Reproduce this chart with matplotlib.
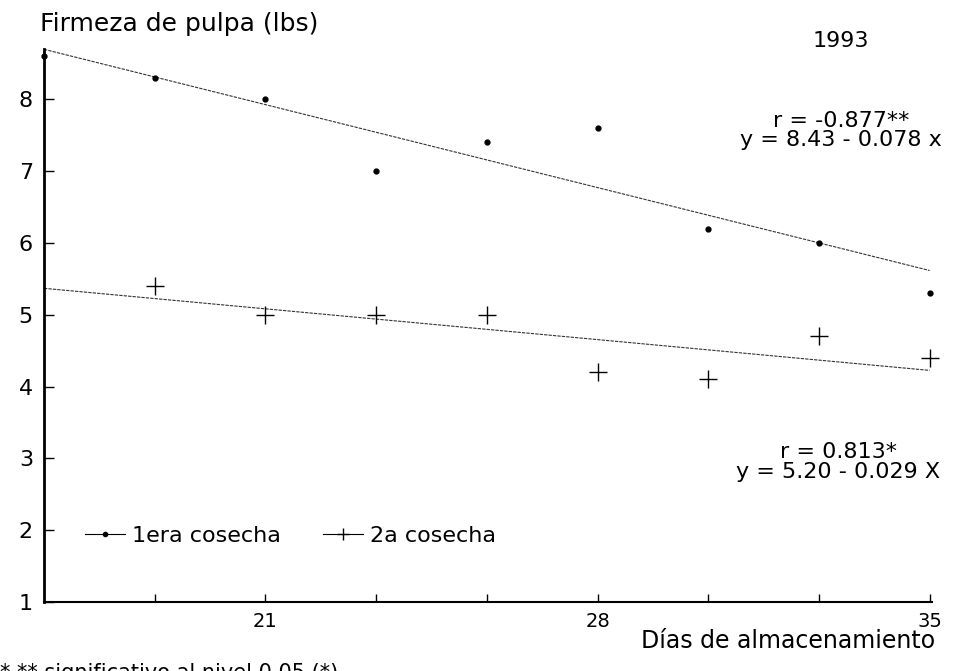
from matplotlib import pyplot as plt
from matplotlib.lines import Line2D
import numpy as np

# datos
dias = [49/3, 56/3, 21, 70/3, 77/3, 28, 91/3, 98/3, 35]
cosecha1 = [8.6, 8.3, 8.0, 7.0, 7.4, 7.6, 6.2, 6.0, 5.3]
dias2 = [56/3, 21, 70/3, 77/3, 28, 91/3, 98/3, 35]
cosecha2 = [5.4, 5.0, 5.0, 5.0, 4.2, 4.1, 4.7, 4.4]
xtick_labels = ['', '21', '', '', '28', '', '', '35']
ytick_vals = [1, 2, 3, 4, 5, 6, 7, 8]

plt.rcParams['font.family'] = 'DejaVu Sans'

fig = plt.figure(figsize=(9.59, 6.71), dpi=100)
ax = fig.add_axes([44/959, 1-602/671, (932-44)/959, (602-49)/671])

# rectas de regresion
xr = np.array([dias[0], dias[-1]])
p1 = np.polyfit(dias, cosecha1, 1)
p2 = np.polyfit(dias2, cosecha2, 1)
ls = (0, (3, 1))
ax.plot(xr, np.polyval(p1, xr), color='#333333', lw=0.8, ls=ls, clip_on=False)
ax.plot(xr, np.polyval(p2, xr), color='#333333', lw=0.8, ls=ls, clip_on=False)

# puntos
ax.plot(dias, cosecha1, 'o', color='black', ms=3.5, clip_on=False)
ax.plot(dias2, cosecha2, '+', color='black', ms=13, mew=1.0, clip_on=False)

ax.set_xlim(49/3, 35.05)
ax.set_ylim(1, 8.7)
ax.set_xticks(dias[1:])
ax.set_xticklabels(xtick_labels, fontsize=14)
ax.set_yticks(ytick_vals)
ax.set_yticklabels([str(v) for v in ytick_vals], fontsize=16)
ax.tick_params(axis='x', direction='in', length=6, width=1, pad=7)
ax.tick_params(axis='y', direction='in', length=7, width=1, pad=8)

for s in ['top', 'right']:
  ax.spines[s].set_visible(False)
ax.spines['left'].set_linewidth(2)
ax.spines['bottom'].set_linewidth(1.5)

# leyenda
h1 = Line2D([], [], color='black', lw=0.8, marker='o', ms=3)
h2 = Line2D([], [], color='black', lw=0.8, marker='+', ms=9, mew=1)
ax.legend([h1, h2], ['1era cosecha', '2a cosecha'], ncol=2, frameon=False,
          loc='center left', bbox_to_anchor=(74/959, 1-536/671),
          bbox_transform=fig.transFigure, fontsize=16, borderpad=0,
          handlelength=1.8, handletextpad=0.3, columnspacing=1.9)

# textos
fig.text(40/959, 1-24/671, 'Firmeza de pulpa (lbs)', fontsize=18, va='center', ha='left')
fig.text(841/959, 1-41/671, '1993', fontsize=16, va='center', ha='center')
fig.text(841/959, 1-121/671, 'r = -0.877**', fontsize=16, va='center', ha='center')
fig.text(841/959, 1-140/671, 'y = 8.43 - 0.078 x', fontsize=16, va='center', ha='center')
fig.text(838/959, 1-452/671, 'r = 0.813*', fontsize=16, va='center', ha='center')
fig.text(838/959, 1-472/671, 'y = 5.20 - 0.029 X', fontsize=16, va='center', ha='center')
fig.text(935/959, 1-641/671, 'Días de almacenamiento', fontsize=17, va='center', ha='right')
fig.text(0, 1-663/671, '* ** significativo al nivel 0.05 (*)', fontsize=15, va='top', ha='left')

fig.savefig('out.png', dpi=100)
